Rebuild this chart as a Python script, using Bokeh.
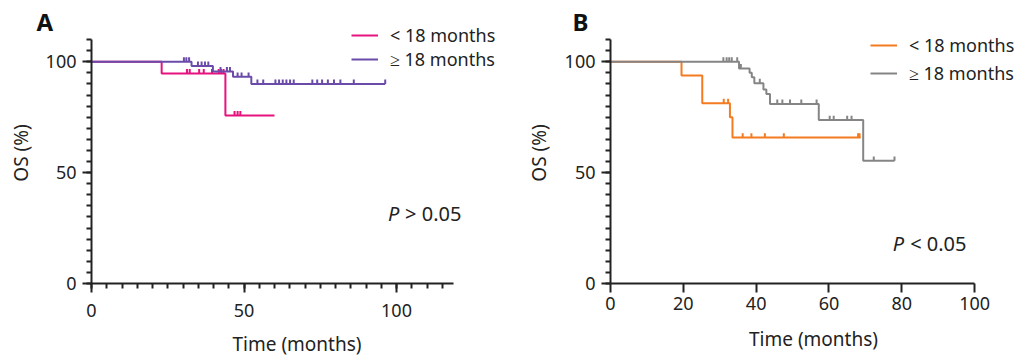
import math
from bokeh.plotting import figure
from bokeh.models import (Range1d, SingleIntervalTicker, Legend, LegendItem, Label,
                          ColumnDataSource)
from bokeh.layouts import row
from bokeh.embed import file_html
from bokeh.resources import INLINE

FONT = "Noto Sans"
TXT = "#222222"

# ---------------- Panel A data ----------------
A_lt_step_t = [0, 23.0, 43.9, 60.0]
A_lt_step_s = [100, 94.7, 75.8, 75.8]
A_lt_cens_t = [31.3, 32.2, 35.3, 36.8, 39.5, 41.7, 42.5, 43.3, 46.9, 47.9, 48.8]
A_lt_cens_s = [94.7, 94.7, 94.7, 94.7, 94.7, 94.7, 94.7, 94.7, 75.8, 75.8, 75.8]

A_ge_step_t = [0, 32.8, 39.8, 46.4, 52.4, 96.3]
A_ge_step_s = [100, 98.1, 95.6, 93.2, 90.0, 90.0]
A_ge_cens_t = [30.3, 31.1, 32.0, 34.9, 36.1, 37.2, 38.3, 42.3, 44.4, 45.4,
               47.9, 49.2, 51.5, 54.4, 56.3, 60.3, 61.5, 62.7, 63.9, 65.1, 66.3,
               72.4, 74.0, 75.6, 77.5, 79.5, 81.6, 86.0, 96.3]
A_ge_cens_s = [100, 100, 100, 98.1, 98.1, 98.1, 98.1, 95.6, 95.6, 95.6,
               93.2, 93.2, 93.2, 90.0, 90.0, 90.0, 90.0, 90.0, 90.0, 90.0, 90.0,
               90.0, 90.0, 90.0, 90.0, 90.0, 90.0, 90.0, 90.0]

# ---------------- Panel B data ----------------
B_lt_step_t = [0, 19.5, 25.2, 32.8, 33.5, 68.7]
B_lt_step_s = [100, 93.8, 81.3, 75.0, 65.8, 65.8]
B_lt_cens_t = [31.1, 32.3, 36.3, 38.7, 42.4, 47.6, 68.0, 68.4]
B_lt_cens_s = [81.3, 81.3, 65.8, 65.8, 65.8, 65.8, 65.8, 65.8]

B_ge_step_t = [0, 35.3, 38.2, 38.8, 39.5, 42.0, 42.8, 43.8, 57.2, 69.4, 78.0]
B_ge_step_s = [100, 97.0, 95.0, 93.0, 90.3, 87.5, 85.5, 81.0, 73.7, 55.3, 55.3]
B_ge_cens_t = [31.0, 31.9, 32.6, 33.3, 34.8, 35.8, 41.0, 45.8, 47.2, 49.3, 52.4,
               56.6, 60.2, 61.3, 65.0, 66.2, 72.3, 78.0]
B_ge_cens_s = [100, 100, 100, 100, 100, 97.0, 90.3, 81.0, 81.0, 81.0, 81.0,
               81.0, 73.7, 73.7, 73.7, 73.7, 55.3, 55.3]

LEGEND_LABELS = ["< 18 months", "\u2265 18 months"]
A_COLORS = ["#E6127E", "#6A4BAA"]
B_COLORS = ["#F47B20", "#858585"]

TICK_H = 2.0   # censor tick height in % units
Y_TOP = 117.7  # frame top (axis itself ends at 110)


def style_axes(p, xticker, xbounds, x_standoff, xlab_standoff, ylab_standoff):
    p.grid.visible = False
    p.outline_line_color = None
    p.xaxis.ticker = xticker
    p.yaxis.ticker = SingleIntervalTicker(interval=50, num_minor_ticks=10)
    p.xaxis.bounds = xbounds
    p.yaxis.bounds = (0, 110)
    for ax in (p.xaxis[0], p.yaxis[0]):
        ax.axis_line_width = 2
        ax.axis_line_color = TXT
        ax.major_tick_line_width = 2
        ax.major_tick_line_color = TXT
        ax.minor_tick_line_width = 2
        ax.minor_tick_line_color = TXT
        ax.major_tick_in = 0
        ax.major_tick_out = 9
        ax.minor_tick_in = 0
        ax.minor_tick_out = 5
        ax.major_label_text_font = FONT
        ax.major_label_text_font_size = "18px"
        ax.major_label_text_color = TXT
        ax.axis_label_text_font = FONT
        ax.axis_label_text_font_size = "19px"
        ax.axis_label_text_font_style = "normal"
        ax.axis_label_text_color = TXT
    p.xaxis.axis_label = "Time (months)"
    p.yaxis.axis_label = "OS (%)"
    p.xaxis.major_label_standoff = x_standoff
    p.xaxis.axis_label_standoff = xlab_standoff
    p.yaxis.major_label_standoff = 6
    p.yaxis.axis_label_standoff = ylab_standoff


def style_title(p, text, offset):
    p.title.text = text
    p.title.align = "left"
    p.title.offset = offset
    p.title.standoff = -31
    p.title.text_font = FONT
    p.title.text_font_size = "24px"
    p.title.text_font_style = "bold"
    p.title.text_color = "#111111"


def draw_group(p, st, ss, ct, cs, color):
    r_line = p.step(st, ss, mode="after", line_color=color, line_width=2)
    src = ColumnDataSource(dict(x=ct, y0=cs, y1=[v + TICK_H for v in cs]))
    p.segment(x0="x", y0="y0", x1="x", y1="y1", source=src,
              line_color=color, line_width=2)
    r_leg = p.scatter(x=[], y=[], marker="dash", angle=math.pi / 2, size=8,
                      line_color=color, line_width=2)
    return [r_line, r_leg]


def add_legend(p, items, loc, spacing):
    leg = Legend(items=[LegendItem(label=lab, renderers=rs) for lab, rs in items],
                 location=loc, orientation="vertical",
                 glyph_width=27, glyph_height=22, label_height=22,
                 label_standoff=12, spacing=spacing, padding=0, margin=0,
                 label_text_font=FONT, label_text_font_size="18px",
                 label_text_color=TXT, background_fill_alpha=0,
                 border_line_color=None)
    p.add_layout(leg, "center")


def add_p(p, x1, x2, y, rest):
    p.add_layout(Label(x=x1, y=y, text="P", text_font=FONT, text_font_size="20px",
                       text_font_style="italic", text_color=TXT, text_baseline="middle"))
    p.add_layout(Label(x=x2, y=y, text=rest, text_font=FONT, text_font_size="20px",
                       text_color=TXT, text_baseline="middle"))


# ---------------- Panel A ----------------
pA = figure(width=505, height=362, output_backend="svg", toolbar_location=None,
            x_range=Range1d(0, 134.75), y_range=Range1d(0, Y_TOP),
            min_border_left=91, min_border_right=3, min_border_top=22,
            min_border_bottom=79)
style_axes(pA, SingleIntervalTicker(interval=50, num_minor_ticks=10), (0, 118.7), 11, 11, 9)
style_title(pA, "A", -55)
ra1 = draw_group(pA, A_lt_step_t, A_lt_step_s, A_lt_cens_t, A_lt_cens_s, A_COLORS[0])
ra2 = draw_group(pA, A_ge_step_t, A_ge_step_s, A_ge_cens_t, A_ge_cens_s, A_COLORS[1])
add_legend(pA, [(LEGEND_LABELS[0], ra1), (LEGEND_LABELS[1], ra2)], (260, 212), 0)
add_p(pA, 97.2, 102.8, 31.7, "> 0.05")

# ---------------- Panel B ----------------
pB = figure(width=514, height=362, output_backend="svg", toolbar_location=None,
            x_range=Range1d(0, 111.5), y_range=Range1d(0, Y_TOP),
            min_border_left=105, min_border_right=3, min_border_top=22,
            min_border_bottom=79)
style_axes(pB, SingleIntervalTicker(interval=20, num_minor_ticks=0), (0, 100), 4, 13, 10)
style_title(pB, "B", -38)
rb1 = draw_group(pB, B_lt_step_t, B_lt_step_s, B_lt_cens_t, B_lt_cens_s, B_COLORS[0])
rb2 = draw_group(pB, B_ge_step_t, B_ge_step_s, B_ge_cens_t, B_ge_cens_s, B_COLORS[1])
add_legend(pB, [(LEGEND_LABELS[0], rb1), (LEGEND_LABELS[1], rb2)], (260, 198), 4)
add_p(pB, 77.5, 82.3, 18.2, "< 0.05")

layout = row(pA, pB)
open("out.html", "w").write(file_html(layout, INLINE))
